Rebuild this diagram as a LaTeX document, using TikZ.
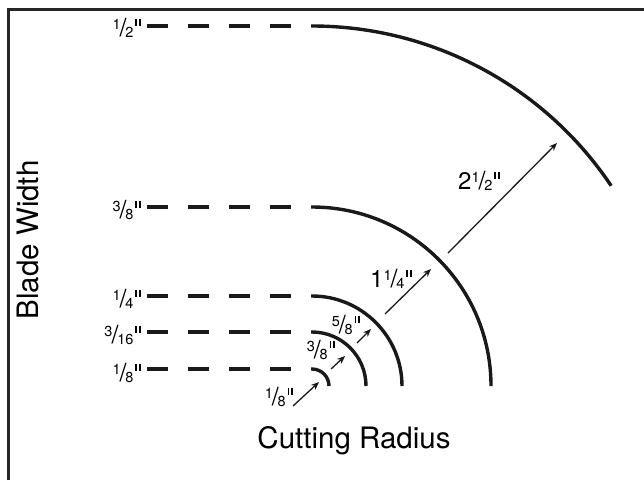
\documentclass[tikz,border=0pt]{standalone}
\usepackage{fontspec}
\setmainfont{TeX Gyre Heros}
\usetikzlibrary{arrows.meta}
\newcommand\dig[1]{{\fontsize{14.5}{14.5}\selectfont #1}}
\newcommand\myfrac[2]{\raisebox{7.2pt}{\dig{#1}}\kern-1pt{\fontsize{25}{25}\selectfont/}\kern-1.2pt\raisebox{-0.3pt}{\dig{#2}}}
\newcommand\ditto{\kern2pt\raisebox{11pt}{\rule{1.7pt}{6.5pt}\kern2pt\rule{1.7pt}{6.5pt}}}
\begin{document}
\begin{tikzpicture}[x=1pt,y=-1pt,
  frame/.style={line width=3pt,black!85},
  guide/.style={line width=4pt,black!90,dash pattern=on 20.5pt off 20.5pt},
  cut/.style={line width=3.4pt,black!90},
  arr/.style={line width=1.3pt,black!90,-{Stealth[length=8pt,width=6.5pt]}},
  lab/.style={inner sep=0pt,anchor=east},
  big/.style={font=\fontsize{29.5}{30}\selectfont,inner sep=0pt}]
\useasboundingbox (0,0) rectangle (644,480);
\draw[frame] (8,480) -- (8,9) -- (644,9);
% guide lines (dashed)
\foreach \r in {360,179,90,54,17}{
  \draw[guide] (147,386-\r) -- (292,386-\r);
}
% arcs (common centre at (312,386))
\draw[cut] (311,26) -- (312,26) arc[start angle=-90,end angle=-33.8,radius=360];
\draw[cut] (311,207) -- (312,207) arc[start angle=-90,end angle=0,radius=179];
\draw[cut] (311,296) -- (312,296) arc[start angle=-90,end angle=0,radius=90];
\draw[cut] (311,332) -- (312,332) arc[start angle=-90,end angle=0,radius=54];
\draw[cut] (311,369) -- (312,369) arc[start angle=-90,end angle=0,radius=17];
% left labels
\node[lab] (l1) at (141,28) {\myfrac{1}{2}\ditto};
\node[lab] (l2) at (141,210) {\myfrac{3}{8}\ditto};
\node[lab] (l3) at (141,299) {\myfrac{1}{4}\ditto};
\node[lab] (l4) at (141,335) {\myfrac{3}{16}\ditto};
\node[lab] (l5) at (141,373) {\myfrac{1}{8}\ditto};
% arrows
\coordinate (a1s) at (293,406); \coordinate (a1e) at (319,382);
\coordinate (a2s) at (331,369); \coordinate (a2e) at (345,356);
\coordinate (a3s) at (357,343); \coordinate (a3e) at (371,329);
\coordinate (a4s) at (385,314); \coordinate (a4e) at (431,269);
\coordinate (a5s) at (448,253); \coordinate (a5e) at (557,143);
\draw[arr] (a1s) -- (a1e);
\draw[arr] (a2s) -- (a2e);
\draw[arr] (a3s) -- (a3e);
\draw[arr] (a4s) -- (a4e);
\draw[arr] (a5s) -- (a5e);
% radius labels
\node[inner sep=0pt] (r1) at (279,397) {\myfrac{1}{8}\ditto};
\node[inner sep=0pt] (r2) at (321,350) {\myfrac{3}{8}\ditto};
\node[inner sep=0pt] (r3) at (346,325) {\myfrac{5}{8}\ditto};
\node[inner sep=0pt] (r4) at (391,279) {{\fontsize{24}{24}\selectfont 1}\myfrac{1}{4}\ditto};
\node[inner sep=0pt] (r5) at (479,181) {{\fontsize{24}{24}\selectfont 2}\myfrac{1}{2}\ditto};
% axis titles
\node[big,rotate=90] (bw) at (28,240) {Blade Width};
\node[big] (cr) at (354,441) {Cutting Radius};
\end{tikzpicture}
\end{document}
